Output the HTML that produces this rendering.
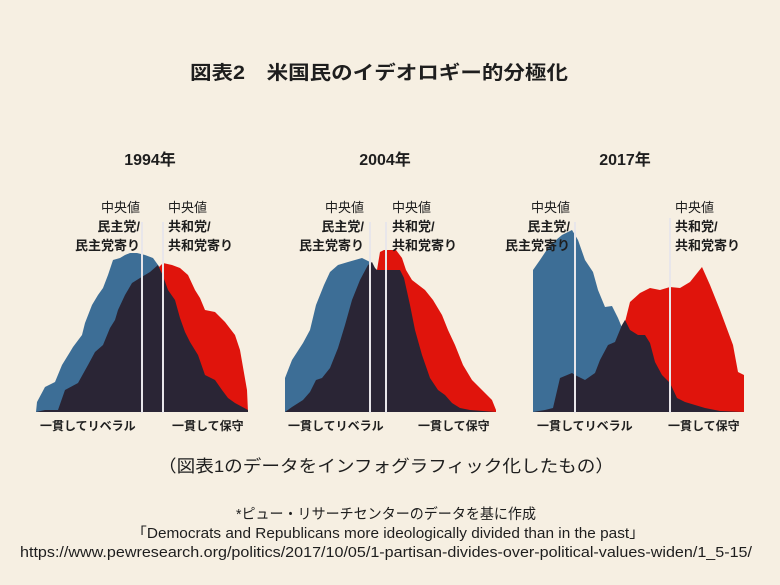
<!DOCTYPE html>
<html><head><meta charset="utf-8"><style>
html,body{margin:0;padding:0;background:#f6efe2}
svg{display:block}
text{font-family:"Liberation Sans","Noto Sans CJK JP",sans-serif;fill:#1e1e1e}
.b{font-weight:bold}
</style></head><body>
<svg width="780" height="585" viewBox="0 0 780 585" xmlns="http://www.w3.org/2000/svg">
<rect width="780" height="585" fill="#f6efe2"/>
<text x="379" y="79" text-anchor="middle" class="b" font-size="19" textLength="378" lengthAdjust="spacingAndGlyphs">図表2　米国民のイデオロギー的分極化</text>
<text x="150" y="165" text-anchor="middle" class="b" font-size="16">1994年</text>
<text x="385" y="165" text-anchor="middle" class="b" font-size="16">2004年</text>
<text x="625" y="165" text-anchor="middle" class="b" font-size="16">2017年</text>

<!-- chart 1 -->
<polygon fill="#3d6e96" points="36,412 37,402 45,387 55,382 62,365 70,352 73,347 82,335 85,323 92,305 98,295 103,288 108,275 113,260 120,258 125,255 130,253 137,253 145,255 153,258 158,265 162,272 170,300 180,340 195,380 210,405 215,412"/>
<polygon fill="#e0140c" points="150,412 155,275 158,268 163,263 172,265 180,268 188,275 195,290 200,298 205,310 215,312 225,322 235,335 240,350 247,390 248,412"/>
<polygon fill="#2a2535" points="36,412 45,410 58,410 65,390 78,383 88,365 95,352 103,345 110,328 115,320 118,310 125,295 132,283 140,278 150,272 158,265 163,276 168,290 175,300 180,318 185,332 190,342 198,355 205,375 215,380 222,390 228,398 235,403 248,410 248,412"/>
<line x1="142" y1="222" x2="142" y2="413" stroke="#e8e6ea" stroke-width="2"/>
<line x1="163" y1="222" x2="163" y2="413" stroke="#e8e6ea" stroke-width="2"/>
<text x="140" y="212" text-anchor="end" font-size="13">中央値</text>
<text x="140" y="231" text-anchor="end" class="b" font-size="13">民主党/</text>
<text x="140" y="250" text-anchor="end" class="b" font-size="13">民主党寄り</text>
<text x="168" y="212" font-size="13">中央値</text>
<text x="168" y="231" class="b" font-size="13">共和党/</text>
<text x="168" y="250" class="b" font-size="13">共和党寄り</text>
<text x="40" y="430" class="b" font-size="12">一貫してリベラル</text>
<text x="172" y="430" class="b" font-size="12">一貫して保守</text>

<!-- chart 2 -->
<polygon fill="#3d6e96" points="285,412 285,378 292,360 303,343 310,330 316,305 324,285 330,272 338,265 348,262 355,260 362,258 370,262 375,268 380,300 380,412"/>
<polygon fill="#e0140c" points="376,412 377,270 380,252 384,250 396,250 402,258 406,270 412,280 425,290 433,300 442,315 448,330 455,345 463,365 472,380 482,390 492,400 496,410 496,412"/>
<polygon fill="#2a2535" points="285,412 292,407 303,400 310,392 316,380 322,378 330,368 338,348 345,325 352,300 360,280 368,265 372,262 375,268 377,270 400,270 404,278 410,305 415,330 422,355 430,378 438,390 445,395 452,403 460,408 470,410 496,412"/>
<line x1="370" y1="222" x2="370" y2="413" stroke="#e8e6ea" stroke-width="2"/>
<line x1="386" y1="222" x2="386" y2="413" stroke="#e8e6ea" stroke-width="2"/>
<text x="364" y="212" text-anchor="end" font-size="13">中央値</text>
<text x="364" y="231" text-anchor="end" class="b" font-size="13">民主党/</text>
<text x="364" y="250" text-anchor="end" class="b" font-size="13">民主党寄り</text>
<text x="392" y="212" font-size="13">中央値</text>
<text x="392" y="231" class="b" font-size="13">共和党/</text>
<text x="392" y="250" class="b" font-size="13">共和党寄り</text>
<text x="288" y="430" class="b" font-size="12">一貫してリベラル</text>
<text x="418" y="430" class="b" font-size="12">一貫して保守</text>

<!-- chart 3 -->
<polygon fill="#3d6e96" points="533,412 533,270 540,260 550,245 562,235 572,230 578,240 585,260 593,272 598,290 605,307 612,306 618,318 623,330 625,412"/>
<polygon fill="#e0140c" points="620,412 623,330 630,302 640,293 650,288 660,290 670,287 680,288 690,282 702,267 710,285 720,310 733,345 738,372 744,375 744,412"/>
<polygon fill="#2a2535" points="533,412 545,410 553,408 560,378 572,373 575,375 585,380 595,373 600,360 608,345 615,342 622,325 625,320 630,330 638,335 645,335 650,343 655,362 662,375 670,383 677,398 685,402 695,405 705,408 720,411 744,412"/>
<line x1="575" y1="222" x2="575" y2="413" stroke="#e8e6ea" stroke-width="2"/>
<line x1="670" y1="218" x2="670" y2="413" stroke="#e8e6ea" stroke-width="2"/>
<text x="570" y="212" text-anchor="end" font-size="13">中央値</text>
<text x="570" y="231" text-anchor="end" class="b" font-size="13">民主党/</text>
<text x="570" y="250" text-anchor="end" class="b" font-size="13">民主党寄り</text>
<text x="675" y="212" font-size="13">中央値</text>
<text x="675" y="231" class="b" font-size="13">共和党/</text>
<text x="675" y="250" class="b" font-size="13">共和党寄り</text>
<text x="537" y="430" class="b" font-size="12">一貫してリベラル</text>
<text x="668" y="430" class="b" font-size="12">一貫して保守</text>

<text x="386" y="472" text-anchor="middle" font-size="17" textLength="456" lengthAdjust="spacingAndGlyphs">（図表1のデータをインフォグラフィック化したもの）</text>
<text x="386" y="519" text-anchor="middle" font-size="14.5" textLength="300" lengthAdjust="spacingAndGlyphs">*ピュー・リサーチセンターのデータを基に作成</text>
<text x="388" y="538" text-anchor="middle" font-size="14.5" textLength="513" lengthAdjust="spacingAndGlyphs">「Democrats and Republicans more ideologically divided than in the past」</text>
<text x="386" y="557" text-anchor="middle" font-size="14.5" textLength="732" lengthAdjust="spacingAndGlyphs">https://www.pewresearch.org/politics/2017/10/05/1-partisan-divides-over-political-values-widen/1_5-15/</text>
</svg>
</body></html>
